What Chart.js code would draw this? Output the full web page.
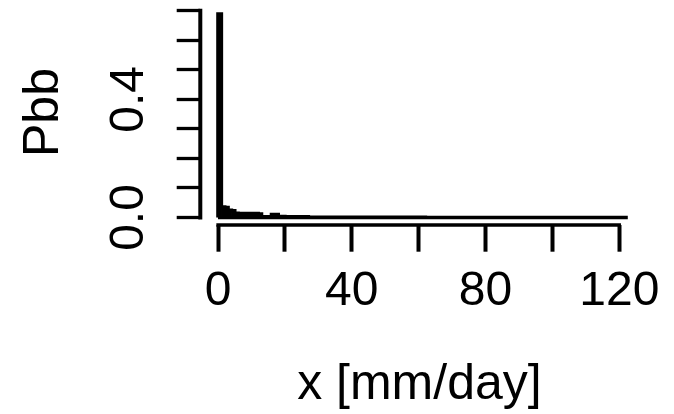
<!DOCTYPE html>
<html>
<head>
<meta charset="utf-8">
<script src="https://cdn.jsdelivr.net/npm/chart.js@4.4.1/dist/chart.umd.min.js"></script>
<style>
  html, body { margin: 0; padding: 0; background: #fff; }
  #wrap { width: 674px; height: 414px; position: relative; }
</style>
</head>
<body>
<div id="wrap"><canvas id="hist"></canvas></div>
<script>
// histogram of daily values, density per 1 mm/day bin starting at 0
const binWidth = 1;
const headDensity = [0.689, 0.035, 0.034, 0.024, 0.023,
    0.014, 0.013, 0.013, 0.013, 0.013, 0.013, 0.013, 0.012,
    0.002, 0.001, 0.002, 0.010, 0.010];
const tailDensity = [
    0.003, 0.003, 0.002, 0.002, 0.002, 0.002, 0.002, 0.001, 0.002, 0.001,
    0.001, 0.001, 0.001, 0.001, 0.001, 0.001, 0.001, 0.001, 0.001, 0.001,
    0.001, 0.001, 0.001, 0.0005, 0.001, 0.0005, 0.0005, 0.001, 0.0005, 0.0005,
    0.0005, 0.0005, 0.0005, 0.0005, 0.0003, 0.0005, 0.0003, 0.0003, 0.0003, 0.0003,
    0.0003, 0.0003, 0.0002, 0.0003, 0.0002, 0.0002, 0.0002, 0.0002, 0.0002, 0.0002,
    0.0002, 0.0001, 0.0002, 0.0001, 0.0001, 0.0001, 0.0001, 0.0001, 0.0001, 0.0001,
    0.0001, 0.0001, 0.0001, 0.0001, 0.0001, 0, 0.0001, 0.0001, 0, 0.0001,
    0, 0.0001, 0, 0, 0.0001, 0, 0, 0.0001, 0, 0,
    0, 0.0001, 0, 0, 0, 0, 0.0001, 0, 0, 0,
    0, 0, 0.0001, 0, 0, 0, 0, 0, 0, 0,
    0, 0, 0, 0.0001];
const density = headDensity.concat(tailDensity);

const xTicks = [0, 20, 40, 60, 80, 100, 120];
const xLabelled = [0, 40, 80, 120];
const yTicks = [0, 0.1, 0.2, 0.3, 0.4, 0.5, 0.6, 0.7];
const yLabelled = [0, 0.4];

const xTitle = 'x [mm/day]';
const yTitle = 'Pbb';

// bars at bin centres
const barPoints = density.map((d, i) => ({ x: (i + 0.5) * binWidth, y: d }));

// outline of the bars (R draws a border round every rect)
const outline = [{ x: 0, y: 0 }];
density.forEach((d, i) => outline.push({ x: i * binWidth, y: d }));
outline.push({ x: density.length * binWidth, y: 0 });
outline.push({ x: 0, y: 0 });

// axis lines only from first to last tick, like base R
const rAxisLines = {
    id: 'rAxisLines',
    afterDraw(chart) {
        const ctx = chart.ctx;
        const x = chart.scales.x;
        const y = chart.scales.y;
        ctx.save();
        ctx.strokeStyle = '#000';
        ctx.lineCap = 'square';
        ctx.lineWidth = 3.3;
        ctx.beginPath();
        ctx.moveTo(x.getPixelForValue(xTicks[0]), x.top);
        ctx.lineTo(x.getPixelForValue(xTicks[xTicks.length - 1]), x.top);
        ctx.stroke();
        ctx.lineWidth = 4;
        ctx.beginPath();
        ctx.moveTo(y.right, y.getPixelForValue(yTicks[0]));
        ctx.lineTo(y.right, y.getPixelForValue(yTicks[yTicks.length - 1]));
        ctx.stroke();
        ctx.restore();
    }
};

Chart.defaults.font.family = '"Liberation Sans", Arial, sans-serif';
Chart.defaults.color = '#000';

new Chart(document.getElementById('hist'), {
    type: 'bar',
    data: {
        datasets: [
            {
                type: 'line',
                data: outline,
                borderColor: '#000',
                borderWidth: 3.6,
                borderJoinStyle: 'miter',
                stepped: true,
                pointRadius: 0,
                fill: false,
                order: 0
            },
            {
                type: 'bar',
                data: barPoints,
                backgroundColor: '#000',
                borderWidth: 0,
                barPercentage: 1,
                categoryPercentage: 1,
                grouped: false,
                order: 1
            }
        ]
    },
    options: {
        responsive: true,
        maintainAspectRatio: false,
        animation: false,
        layout: { padding: { left: 0, right: 35.5, top: 0, bottom: 0 } },
        plugins: {
            legend: { display: false },
            tooltip: { enabled: false }
        },
        scales: {
            x: {
                type: 'linear',
                offset: false,
                min: -5.293,
                max: 125.74,
                afterBuildTicks: s => { s.ticks = xTicks.map(v => ({ value: v })); },
                afterFit: s => { s.height = 189; s.paddingLeft = 0; s.paddingRight = 0; },
                border: { display: false },
                grid: {
                    offset: false,
                    drawOnChartArea: false,
                    drawTicks: true,
                    tickLength: 26.7,
                    tickWidth: 4,
                    tickColor: '#000'
                },
                ticks: {
                    autoSkip: false,
                    maxRotation: 0,
                    padding: 11,
                    font: { size: 48 },
                    callback: v => xLabelled.includes(v) ? String(v) : ''
                },
                title: {
                    display: true,
                    text: xTitle,
                    font: { size: 50, lineHeight: 1 },
                    padding: { top: 0, bottom: 3.8 }
                }
            },
            y: {
                min: -0.0254,
                max: 0.7362,
                afterBuildTicks: s => { s.ticks = yTicks.map(v => ({ value: v })); },
                afterFit: s => { s.width = 200.3; s.paddingTop = 0; s.paddingBottom = 0; },
                border: { display: false },
                grid: {
                    drawOnChartArea: false,
                    drawTicks: true,
                    tickLength: 23.6,
                    tickWidth: 3.3,
                    tickColor: '#000'
                },
                ticks: {
                    autoSkip: false,
                    minRotation: 90,
                    maxRotation: 90,
                    crossAlign: 'center',
                    padding: 13.2,
                    font: { size: 48 },
                    callback: v => yLabelled.includes(v) ? v.toFixed(1) : ''
                },
                title: {
                    display: true,
                    text: yTitle,
                    font: { size: 50, lineHeight: 1 },
                    padding: { top: 19.2, bottom: 0 }
                }
            }
        }
    },
    plugins: [rAxisLines]
});
</script>
</body>
</html>
